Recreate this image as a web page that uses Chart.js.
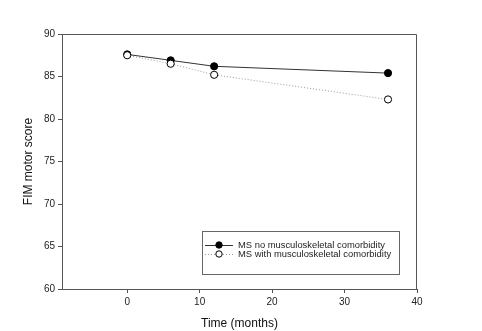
<!DOCTYPE html>
<html>
<head>
<meta charset="utf-8">
<script src="https://cdn.jsdelivr.net/npm/chart.js@4"></script>
<style>
  html, body { margin: 0; padding: 0; background: #fff; }
  #wrap { width: 482px; height: 331px; }
</style>
</head>
<body>
<div id="wrap"><canvas id="myChart" width="482" height="331"></canvas></div>
<script>
// FIM motor score over follow-up, by comorbidity group
var months = [0, 6, 12, 36];
var noComorb = [87.6, 86.9, 86.2, 85.4];
var withComorb = [87.5, 86.5, 85.2, 82.3];
var seriesNames = ['MS no musculoskeletal comorbidity', 'MS with musculoskeletal comorbidity'];
var xTicks = [0, 10, 20, 30, 40];
var yTicks = [60, 65, 70, 75, 80, 85, 90];

var axisColor = '#555';
var fontFam = '"Liberation Sans", Arial, sans-serif';

function toPoints(ys) {
    return months.map(function (m, i) { return { x: m, y: ys[i] }; });
}

// closes the plot frame on the top and right sides
var framePlugin = {
    id: 'frame',
    afterDraw: function (c) {
        let a = c.chartArea, ctx = c.ctx;
        ctx.save();
        ctx.strokeStyle = axisColor;
        ctx.lineWidth = 1;
        ctx.beginPath();
        ctx.moveTo(a.left, a.top + 0.5);
        ctx.lineTo(a.right - 0.5, a.top + 0.5);
        ctx.lineTo(a.right - 0.5, a.bottom);
        ctx.stroke();
        ctx.restore();
    }
};

// boxed legend inside the plot area
var boxLegend = {
    id: 'boxLegend',
    afterDraw: function (c) {
        let ctx = c.ctx;
        let x0 = 202.5, y0 = 231.5, w = 197, h = 43;
        ctx.save();
        ctx.fillStyle = '#fff';
        ctx.fillRect(x0, y0, w, h);
        ctx.strokeStyle = '#666';
        ctx.lineWidth = 1;
        ctx.strokeRect(x0, y0, w, h);
        ctx.font = '9.4px ' + fontFam;
        ctx.textBaseline = 'middle';
        c.data.datasets.forEach(function (ds, i) {
            let y = i == 0 ? 245 : 254;
            ctx.strokeStyle = ds.borderColor;
            ctx.setLineDash(ds.borderDash || []);
            ctx.beginPath();
            ctx.moveTo(205, y + 0.5);
            ctx.lineTo(233, y + 0.5);
            ctx.stroke();
            ctx.setLineDash([]);
            ctx.beginPath();
            ctx.arc(219, y, 3.2, 0, Math.PI * 2);
            ctx.fillStyle = ds.pointBackgroundColor;
            ctx.fill();
            ctx.strokeStyle = ds.pointBorderColor;
            ctx.stroke();
            ctx.fillStyle = '#222';
            ctx.fillText(ds.label, 238, y);
        });
        ctx.restore();
    }
};

var chart = new Chart(document.getElementById('myChart'), {
    type: 'scatter',
    data: {
        datasets: [
            {
                label: seriesNames[0],
                data: toPoints(noComorb),
                showLine: true,
                borderColor: '#333',
                borderWidth: 1,
                pointRadius: 3.6,
                pointBackgroundColor: '#000',
                pointBorderColor: '#000',
                pointBorderWidth: 1,
                order: 2,
            },
            {
                label: seriesNames[1],
                data: toPoints(withComorb),
                showLine: true,
                borderColor: '#999',
                borderWidth: 1,
                borderDash: [1, 2],
                pointRadius: 3.6,
                pointBackgroundColor: '#fff',
                pointBorderColor: '#000',
                pointBorderWidth: 1,
                order: 1,
            },
        ],
    },
    options: {
        responsive: false,
        animation: false,
        layout: { padding: { top: 34, right: 65, left: 18, bottom: 0 } },
        plugins: {
            legend: { display: false },
            tooltip: { enabled: false },
        },
        scales: {
            x: {
                type: 'linear',
                min: -9,
                max: 40,
                afterBuildTicks: function (s) { s.ticks = xTicks.map(function (v) { return { value: v }; }); },
                afterFit: function (s) { s.height = 42; },
                grid: { drawOnChartArea: false, drawTicks: true, tickLength: 4, tickColor: axisColor },
                border: { display: true, color: axisColor },
                ticks: { color: '#222', font: { family: fontFam, size: 10 }, padding: 3, maxRotation: 0 },
                title: {
                    display: true,
                    text: 'Time (months)',
                    color: '#111',
                    font: { family: fontFam, size: 12 },
                    padding: { top: 4, bottom: 0 },
                },
            },
            y: {
                min: 60,
                max: 90,
                afterBuildTicks: function (s) { s.ticks = yTicks.map(function (v) { return { value: v }; }); },
                afterFit: function (s) { s.width = 44; },
                grid: { drawOnChartArea: false, drawTicks: true, tickLength: 4, tickColor: axisColor },
                border: { display: true, color: axisColor },
                ticks: { color: '#222', font: { family: fontFam, size: 10 }, padding: 3 },
                title: {
                    display: true,
                    text: 'FIM motor score',
                    color: '#111',
                    font: { family: fontFam, size: 12 },
                    padding: { top: 3, bottom: 0 },
                },
            },
        },
    },
    plugins: [framePlugin, boxLegend],
});
</script>
</body>
</html>
